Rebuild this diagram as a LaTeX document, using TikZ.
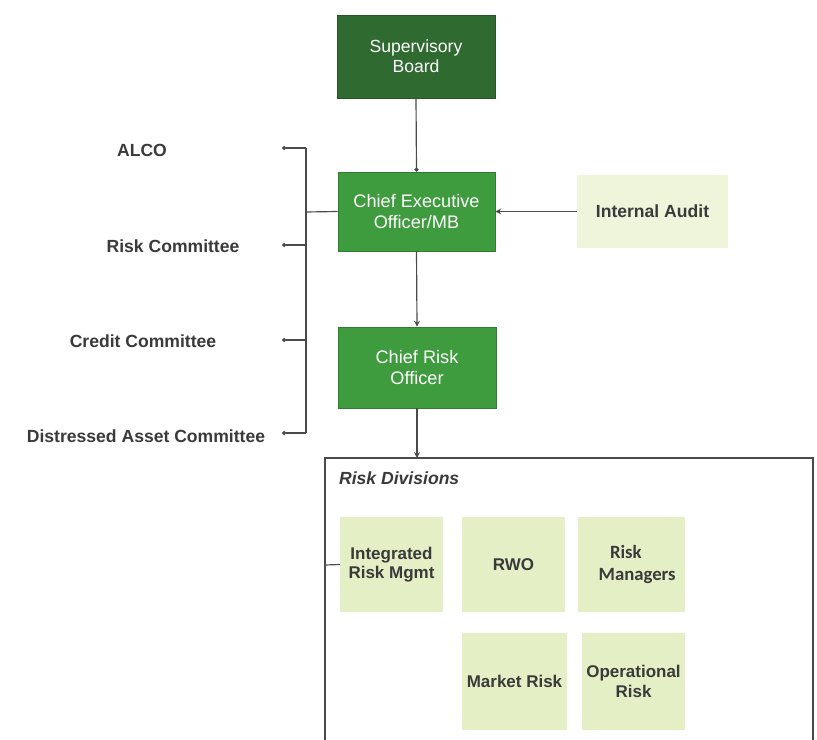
\documentclass[tikz,border=0pt]{standalone}
\usepackage{fontspec}
\setmainfont{Liberation Sans}
\newfontfamily\calfont{Carlito}
\usetikzlibrary{arrows.meta}
\definecolor{sbgreen}{HTML}{2F6A31}
\definecolor{midgreen}{HTML}{3E9B3E}
\definecolor{lightbox}{HTML}{E4EFC6}
\definecolor{iabox}{HTML}{EEF5DA}
\definecolor{txtgray}{HTML}{3A3A3A}
\definecolor{linegray}{HTML}{4A4A4A}
\tikzset{
  darkbox/.style={draw=sbgreen!80!black, line width=0.6pt, fill=sbgreen, text=white, font=\fontsize{15}{17}\selectfont, align=center, inner sep=2pt},
  greenbox/.style={draw=midgreen!80!black, line width=0.6pt, fill=midgreen, text=white, font=\fontsize{15.5}{17.5}\selectfont, align=center, inner sep=2pt},
  lbox/.style={fill=lightbox, text=txtgray, font=\bfseries\fontsize{14.5}{16.5}\selectfont, align=center, inner sep=2pt},
  lbl/.style={text=txtgray, font=\bfseries\fontsize{15}{17}\selectfont},
  conn/.style={draw=linegray, line width=1pt},
  arr/.style={conn, -{Stealth[length=5pt,width=5pt]}},
  dotarr/.style={conn, -{Circle[length=3.5pt]}}
}
\begin{document}
\begin{tikzpicture}[x=0.03cm,y=-0.03cm]
\useasboundingbox (0,0) rectangle (817,740);
% top chain
\node[darkbox, minimum width=4.74cm, minimum height=2.49cm] (sb) at (416,56.5) {Supervisory\\Board};
\node[greenbox, minimum width=4.71cm, minimum height=2.37cm] (ceo) at (416.5,211.5) {Chief Executive\\Officer/MB};
\node[greenbox, minimum width=4.74cm, minimum height=2.43cm] (cro) at (417,367.5) {Chief Risk\\Officer};
\node[fill=iabox, text=txtgray, font=\bfseries\fontsize{15}{17}\selectfont, minimum width=4.53cm, minimum height=2.19cm] (ia) at (652.5,211.5) {Internal Audit};
\draw[dotarr] (sb.south) -- (ceo.north);
\draw[arr] (ceo.south) -- (cro.north);
\draw[arr] (ia.west) -- (ceo.east);
% left committees
\coordinate (bus) at (306,212);
\coordinate (bA) at (306,148);
\coordinate (bB) at (306,245);
\coordinate (bC) at (306,340);
\coordinate (bD) at (306,433);
\coordinate (eA) at (282,148);
\coordinate (eB) at (282,245);
\coordinate (eC) at (282,340);
\coordinate (eD) at (282,433);
\draw[conn] (ceo.west) -- (bus);
\draw[conn] (bA) -- (bD);
\draw[dotarr] (bA) -- (eA);
\draw[dotarr] (bB) -- (eB);
\draw[dotarr] (bC) -- (eC);
\draw[dotarr] (bD) -- (eD);
\node[lbl] (alco) at (142,150) {ALCO};
\node[lbl] (rc) at (173,246) {Risk Committee};
\node[lbl] (cc) at (143,341) {Credit Committee};
\node[lbl] (dac) at (146,436) {Distressed Asset Committee};
% risk divisions frame
\coordinate (fTL) at (325,458);
\coordinate (fTR) at (813,458);
\coordinate (fBL) at (325,740);
\coordinate (fBR) at (813,740);
\coordinate (rdtop) at (417,458);
\draw[conn] (fBL) -- (fTL) -- (fTR) -- (fBR);
\draw[arr] (cro.south) -- (rdtop);
\node[anchor=west, text=txtgray, font=\bfseries\itshape\fontsize{15}{17}\selectfont] (rdt) at (335,478) {Risk Divisions};
\node[lbox, minimum width=3.09cm, minimum height=2.85cm] (irm) at (391.5,564.5) {Integrated\\Risk Mgmt};
\node[lbox, minimum width=3.09cm, minimum height=2.85cm] (rwo) at (513.5,564.5) {RWO};
\node[lbox, minimum width=3.21cm, minimum height=2.85cm, font=\calfont\bfseries\fontsize{16}{19}\selectfont] (rm) at (631.5,564.5) {Risk\hspace*{0.6em}\\\hspace*{0.6em}Managers};
\node[lbox, minimum width=3.15cm, minimum height=2.91cm] (mr) at (514.5,681.5) {Market Risk};
\node[lbox, minimum width=3.09cm, minimum height=2.91cm] (opr) at (633.5,681.5) {Operational\\Risk};
\coordinate (tick) at (325,565);
\draw[conn] (tick) -- (irm.west);
\end{tikzpicture}
\end{document}
